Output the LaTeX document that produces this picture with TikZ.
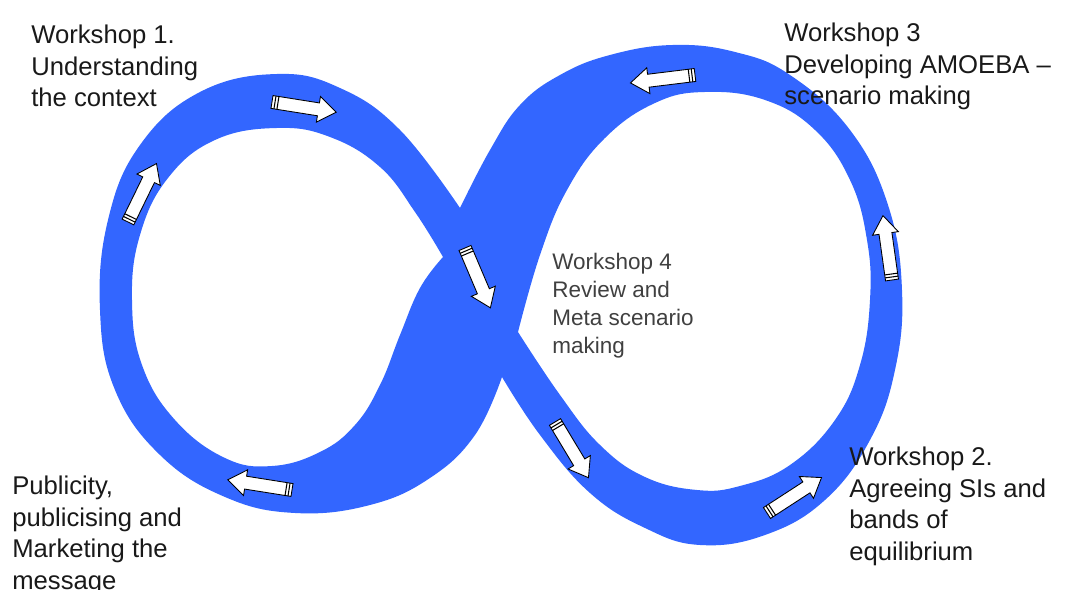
\documentclass[tikz,border=0pt]{standalone}
\usepackage{fontspec}
\setmainfont{Liberation Sans}
\usetikzlibrary{calc}

\definecolor{bandblue}{RGB}{51,102,255}
\tikzset{
  ws text/.style={anchor=north west, inner sep=0, align=left, text=black!90,
    font=\fontsize{14.6}{17.9}\selectfont},
  flow arrow/.style={draw=black, fill=white, line width=0.5pt, line join=miter},
}

\begin{document}
\begin{tikzpicture}[x=0.02cm, y=-0.02cm]
\useasboundingbox (0,0) rectangle (1066,590);
% the band: outer edge, then the two holes
\fill[bandblue, even odd rule]
  (460,208) -- plot[smooth, tension=0.7] coordinates {(460,208) (400,130) (340,88) (277,74) (200,92) (140,145) (108,220) (100,310) (115,390) (160,455) (225,497) (295,513) (370,505) (430,478) (475,435) (502,377)}
  -- plot[smooth, tension=0.7] coordinates {(502,377) (540,435) (590,493) (645,528) (700,545) (765,535) (825,500) (870,440) (895,370) (902,290) (888,205) (850,130) (790,75) (735,52) (673,45) (610,55) (560,75) (520,105) (490,150) (460,208)}
  -- cycle
  plot[smooth, tension=0.7] coordinates {(443,257) (415,212) (380,167) (330,137) (277,128) (215,140) (168,178) (140,235) (132,300) (142,365) (175,420) (225,458) (272,466) (320,452) (355,425) (380,385) (400,335) (420,288) (443,257)}
  -- cycle
  plot[smooth, tension=0.7] coordinates {(518,332) (540,255) (567,190) (605,138) (655,103) (705,92) (765,100) (815,130) (850,180) (867,240) (870,300) (860,365) (835,420) (790,465) (740,486) (697,490) (645,477) (600,445) (560,395) (518,332)}
  -- cycle;

% white arrows along the band
\foreach \x/\y/\a in {272/102/-9, 128/222/64, 465/248/-67, 555/422/-59, 767/513/33, 892/280/98, 695/75/187, 292/490/171} {
  \begin{scope}[shift={(\x,\y)}, rotate=\a]
    \draw[flow arrow] (0,-6.5) -- (47,-6.5) -- (47,-13) -- (65,0) -- (47,13) -- (47,6.5) -- (0,6.5) -- cycle;
    \draw[line width=0.6pt] (3,-6.5) -- (3,6.5) (6,-6.5) -- (6,6.5);
  \end{scope}
}

\node[ws text] (ws1) at (31,25) {Workshop 1.\\Understanding\\the context};
\node[ws text] (ws3) at (784,23) {Workshop 3\\Developing AMOEBA --\\scenario making};
\node[ws text, text=black!75, font=\fontsize{12.8}{15.9}\selectfont] (ws4) at (552,253) {Workshop 4\\Review and\\Meta scenario\\making};
\node[ws text] (ws2) at (849,447) {Workshop 2.\\Agreeing SIs and\\bands of\\equilibrium};
\node[ws text] (pub) at (12,476) {Publicity,\\publicising and\\Marketing the\\message};
\end{tikzpicture}
\end{document}
